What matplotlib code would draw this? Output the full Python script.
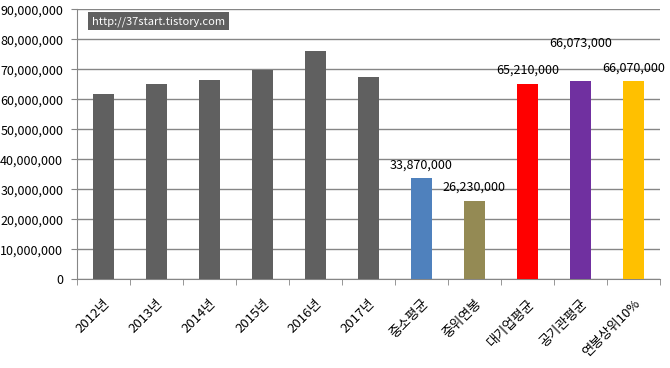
import numpy as np
import matplotlib.pyplot as plt
from matplotlib.ticker import FuncFormatter, FixedLocator

plt.rcParams['font.family'] = ['Noto Sans CJK KR', 'DejaVu Sans']

# Chart data
categories = ["2012년", "2013년", "2014년", "2015년", "2016년", "2017년",
              "중소평균", "중위연봉", "대기업평균", "공기관평균", "연봉상위10%"]
values = [61700000, 65000000, 66300000, 69700000, 76000000, 67300000,
          33870000, 26230000, 65210000, 66073000, 66070000]
bar_colors = ["#606060"] * 6 + ["#4F81BD", "#948A54", "#FF0000", "#7030A0", "#FFC000"]
labelled = {6: "33,870,000", 7: "26,230,000", 8: "65,210,000",
            9: "66,073,000", 10: "66,070,000"}
label_offsets = {6: 13, 7: 13, 8: 13, 9: 38, 10: 13}

fig = plt.figure(figsize=(6.7, 3.68), dpi=100)
ax = fig.add_axes([0.115, 0.241, 0.870, 0.734])

x = np.arange(len(categories))
ax.bar(x, values, width=0.4, color=bar_colors, zorder=3)

for i, txt in labelled.items():
    ax.annotate(txt, (x[i], values[i]), xytext=(0, label_offsets[i] * 0.72),
                textcoords="offset points", ha="center", va="center",
                fontsize=9, color="#000000", zorder=4)

ax.set_xlim(-0.5, len(categories) - 0.5)
ax.set_ylim(0, 90000000)
ax.set_yticks(np.arange(0, 90000001, 10000000))
ax.yaxis.set_major_formatter(FuncFormatter(lambda v, p: f"{int(v):,}"))
ax.grid(axis="y", color="#868686", linewidth=1.0, zorder=0)

ax.set_xticks(x)
ax.set_xticklabels(categories, rotation=45, ha="right", rotation_mode="anchor",
                   fontsize=9.5)
ax.tick_params(axis="x", length=0, pad=13)
ax.xaxis.set_minor_locator(FixedLocator(np.arange(-0.5, len(categories), 1.0)))
ax.tick_params(axis="x", which="minor", length=4, color="#868686", direction="out")
ax.tick_params(axis="y", length=4, color="#868686", labelsize=9, pad=6)

for side in ["top", "right"]:
    ax.spines[side].set_visible(False)
for side in ["left", "bottom"]:
    ax.spines[side].set_color("#868686")

# watermark box
fig.text(0.137, 0.942, "http://37start.tistory.com", color="white", fontsize=8,
         ha="left", va="center",
         bbox=dict(boxstyle="square,pad=0.35", facecolor="#606060", edgecolor="none"))

fig.savefig("out.png", dpi=100)
